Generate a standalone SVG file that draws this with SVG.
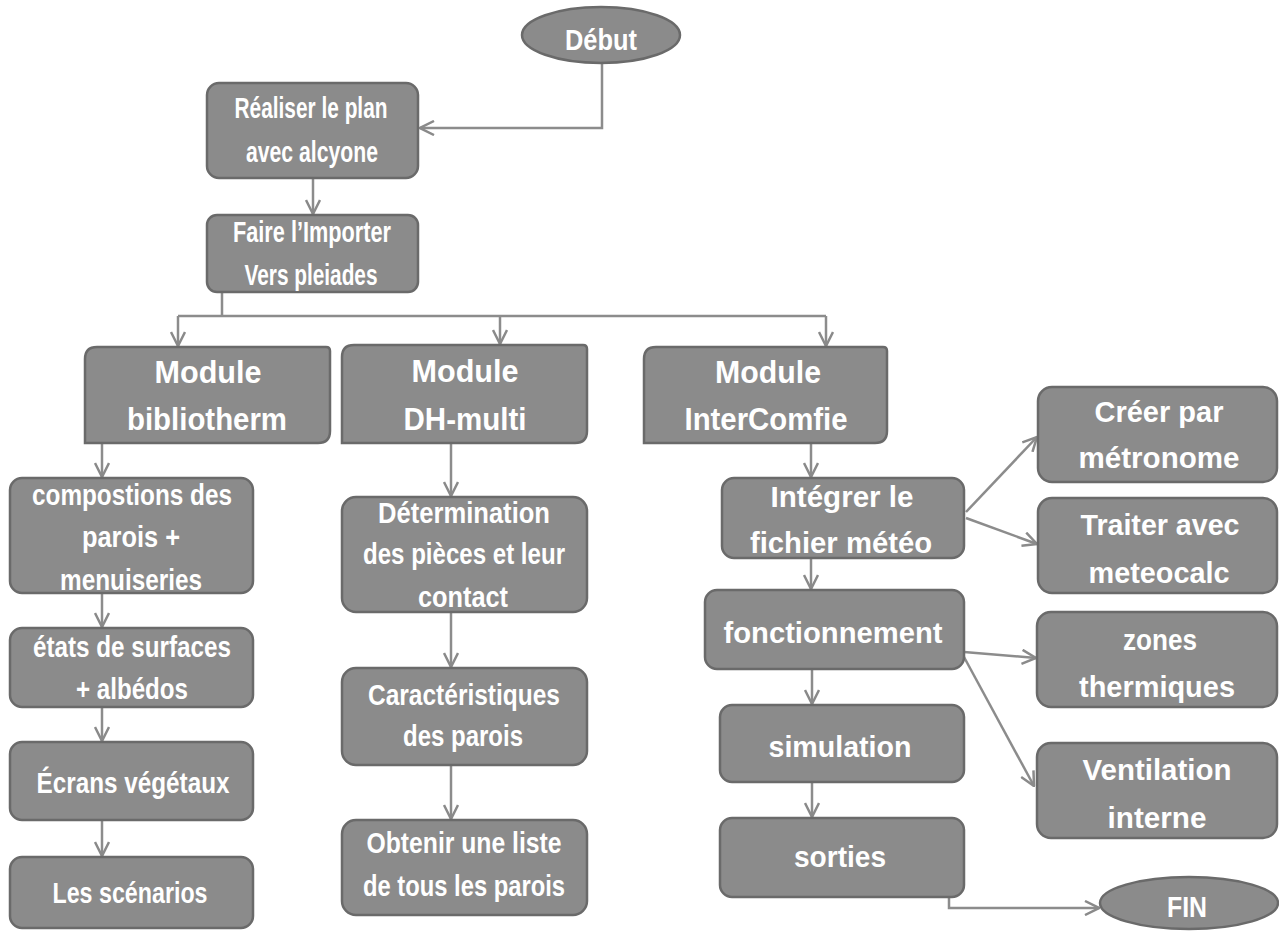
<svg xmlns="http://www.w3.org/2000/svg" width="1279" height="931" viewBox="0 0 1279 931">
<defs>
<marker id="arr" viewBox="0 0 16 16" refX="15" refY="8" markerWidth="16" markerHeight="16" markerUnits="userSpaceOnUse" orient="auto">
<path d="M1,1 L15,8 L1,15" fill="none" stroke="#8a8a8a" stroke-width="2.5"/>
</marker>
<style>
.box{fill:#8b8b8b;stroke:#6a6a6a;stroke-width:2.5}
.t{fill:#ffffff;font-family:"Liberation Sans",Arial,sans-serif;font-weight:bold;font-size:29px;text-anchor:middle}
.m{font-size:31px}
.c{fill:none;stroke:#8c8c8c;stroke-width:2.5}
.a{marker-end:url(#arr)}
</style>
</defs>
<rect width="1279" height="931" fill="#ffffff"/>

<g id="connectors">
<path class="c a" d="M602,63 V128 H420"/>
<path class="c a" d="M313,178 V214"/>
<path class="c" d="M222,292 V316 M178,316 H826"/>
<path class="c a" d="M178,316 V346"/>
<path class="c a" d="M500,316 V344"/>
<path class="c a" d="M826,316 V346"/>
<path class="c a" d="M102,443 V477"/>
<path class="c a" d="M102,593 V627"/>
<path class="c a" d="M102,707 V741"/>
<path class="c a" d="M102,820 V856"/>
<path class="c a" d="M451,443 V496"/>
<path class="c a" d="M451,612 V667"/>
<path class="c a" d="M451,765 V819"/>
<path class="c a" d="M811,443 V477"/>
<path class="c a" d="M966,512 L1037,437"/>
<path class="c a" d="M966,518 L1037,544"/>
<path class="c a" d="M811,558 V589"/>
<path class="c a" d="M964,652 L1036,658"/>
<path class="c a" d="M964,657 L1034,786"/>
<path class="c a" d="M812,669 V704"/>
<path class="c a" d="M812,782 V817"/>
<path class="c a" d="M949,897 V908 H1099"/>
</g>

<g id="debut">
<ellipse class="box" cx="601" cy="35" rx="79" ry="28"/>
<text class="t" x="601" y="50" textLength="72" lengthAdjust="spacingAndGlyphs">Début</text>
</g>
<g id="realiser">
<rect class="box" x="207" y="83" width="211" height="95" rx="12"/>
<text class="t" x="311" y="118" textLength="153" lengthAdjust="spacingAndGlyphs">Réaliser le plan</text>
<text class="t" x="312" y="162" textLength="132" lengthAdjust="spacingAndGlyphs">avec alcyone</text>
</g>
<g id="importer">
<rect class="box" x="207" y="215" width="211" height="77" rx="10"/>
<text class="t" x="312" y="242" textLength="158" lengthAdjust="spacingAndGlyphs">Faire l’Importer</text>
<text class="t" x="311" y="285" textLength="133" lengthAdjust="spacingAndGlyphs">Vers pleiades</text>
</g>

<g id="bibliotherm">
<path class="box" d="M97,347 H326 Q330,347 330,351 V431 Q330,443 318,443 H85 V359 Q85,347 97,347 Z"/>
<text class="t m" x="208" y="383" textLength="107" lengthAdjust="spacingAndGlyphs">Module</text>
<text class="t m" x="207" y="430" textLength="160" lengthAdjust="spacingAndGlyphs">bibliotherm</text>
</g>
<g id="dhmulti">
<path class="box" d="M354,345 H583 Q587,345 587,349 V431 Q587,443 575,443 H342 V357 Q342,345 354,345 Z"/>
<text class="t m" x="465" y="382" textLength="107" lengthAdjust="spacingAndGlyphs">Module</text>
<text class="t m" x="465" y="430" textLength="123" lengthAdjust="spacingAndGlyphs">DH-multi</text>
</g>
<g id="intercomfie">
<path class="box" d="M656,347 H883 Q887,347 887,351 V431 Q887,443 875,443 H644 V359 Q644,347 656,347 Z"/>
<text class="t m" x="768" y="383" textLength="106" lengthAdjust="spacingAndGlyphs">Module</text>
<text class="t m" x="766" y="430" textLength="163" lengthAdjust="spacingAndGlyphs">InterComfie</text>
</g>

<g id="compositions">
<rect class="box" x="10" y="478" width="243" height="115" rx="12"/>
<text class="t" x="132" y="505" textLength="200" lengthAdjust="spacingAndGlyphs">compostions des</text>
<text class="t" x="131" y="547" textLength="98" lengthAdjust="spacingAndGlyphs">parois  +</text>
<text class="t" x="131" y="590" textLength="142" lengthAdjust="spacingAndGlyphs">menuiseries</text>
</g>
<g id="etats">
<rect class="box" x="10" y="628" width="243" height="79" rx="12"/>
<text class="t" x="132" y="657" textLength="198" lengthAdjust="spacingAndGlyphs">états de surfaces</text>
<text class="t" x="132" y="699" textLength="112" lengthAdjust="spacingAndGlyphs">+ albédos</text>
</g>
<g id="ecrans">
<rect class="box" x="10" y="742" width="243" height="78" rx="12"/>
<text class="t" x="133" y="793" textLength="193" lengthAdjust="spacingAndGlyphs">Écrans végétaux</text>
</g>
<g id="scenarios">
<rect class="box" x="10" y="857" width="243" height="71" rx="12"/>
<text class="t" x="130" y="903" textLength="155" lengthAdjust="spacingAndGlyphs">Les scénarios</text>
</g>

<g id="determination">
<rect class="box" x="342" y="497" width="245" height="115" rx="14"/>
<text class="t" x="464" y="523" textLength="172" lengthAdjust="spacingAndGlyphs">Détermination</text>
<text class="t" x="464" y="564" textLength="202" lengthAdjust="spacingAndGlyphs">des pièces et leur</text>
<text class="t" x="463" y="607" textLength="90" lengthAdjust="spacingAndGlyphs">contact</text>
</g>
<g id="caracteristiques">
<rect class="box" x="342" y="668" width="245" height="97" rx="14"/>
<text class="t" x="464" y="705" textLength="192" lengthAdjust="spacingAndGlyphs">Caractéristiques</text>
<text class="t" x="463" y="746" textLength="120" lengthAdjust="spacingAndGlyphs">des parois</text>
</g>
<g id="obtenir">
<rect class="box" x="342" y="820" width="245" height="95" rx="14"/>
<text class="t" x="464" y="853" textLength="195" lengthAdjust="spacingAndGlyphs">Obtenir une liste</text>
<text class="t" x="464" y="896" textLength="202" lengthAdjust="spacingAndGlyphs">de tous les parois</text>
</g>

<g id="integrer">
<rect class="box" x="722" y="478" width="242" height="80" rx="12"/>
<text class="t" x="842" y="507" textLength="143" lengthAdjust="spacingAndGlyphs">Intégrer le</text>
<text class="t" x="841" y="553" textLength="182" lengthAdjust="spacingAndGlyphs">fichier météo</text>
</g>
<g id="creer">
<rect class="box" x="1038" y="387" width="239" height="95" rx="14"/>
<text class="t" x="1159" y="422" textLength="129" lengthAdjust="spacingAndGlyphs">Créer par</text>
<text class="t" x="1159" y="468" textLength="161" lengthAdjust="spacingAndGlyphs">métronome</text>
</g>
<g id="traiter">
<rect class="box" x="1038" y="498" width="239" height="95" rx="14"/>
<text class="t" x="1160" y="535" textLength="159" lengthAdjust="spacingAndGlyphs">Traiter avec</text>
<text class="t" x="1159" y="583" textLength="141" lengthAdjust="spacingAndGlyphs">meteocalc</text>
</g>
<g id="fonctionnement">
<rect class="box" x="705" y="590" width="259" height="79" rx="12"/>
<text class="t" x="833" y="643" textLength="219" lengthAdjust="spacingAndGlyphs">fonctionnement</text>
</g>
<g id="zones">
<rect class="box" x="1037" y="612" width="240" height="95" rx="14"/>
<text class="t" x="1160" y="650" textLength="74" lengthAdjust="spacingAndGlyphs">zones</text>
<text class="t" x="1157" y="697" textLength="156" lengthAdjust="spacingAndGlyphs">thermiques</text>
</g>
<g id="ventilation">
<rect class="box" x="1037" y="743" width="240" height="95" rx="14"/>
<text class="t" x="1157" y="780" textLength="149" lengthAdjust="spacingAndGlyphs">Ventilation</text>
<text class="t" x="1157" y="828" textLength="99" lengthAdjust="spacingAndGlyphs">interne</text>
</g>
<g id="simulation">
<rect class="box" x="720" y="705" width="244" height="77" rx="12"/>
<text class="t" x="840" y="757" textLength="143" lengthAdjust="spacingAndGlyphs">simulation</text>
</g>
<g id="sorties">
<rect class="box" x="720" y="818" width="244" height="79" rx="12"/>
<text class="t" x="840" y="867" textLength="92" lengthAdjust="spacingAndGlyphs">sorties</text>
</g>
<g id="fin">
<ellipse class="box" cx="1189" cy="903" rx="89" ry="26"/>
<text class="t" x="1187" y="917" textLength="40" lengthAdjust="spacingAndGlyphs">FIN</text>
</g>
</svg>
